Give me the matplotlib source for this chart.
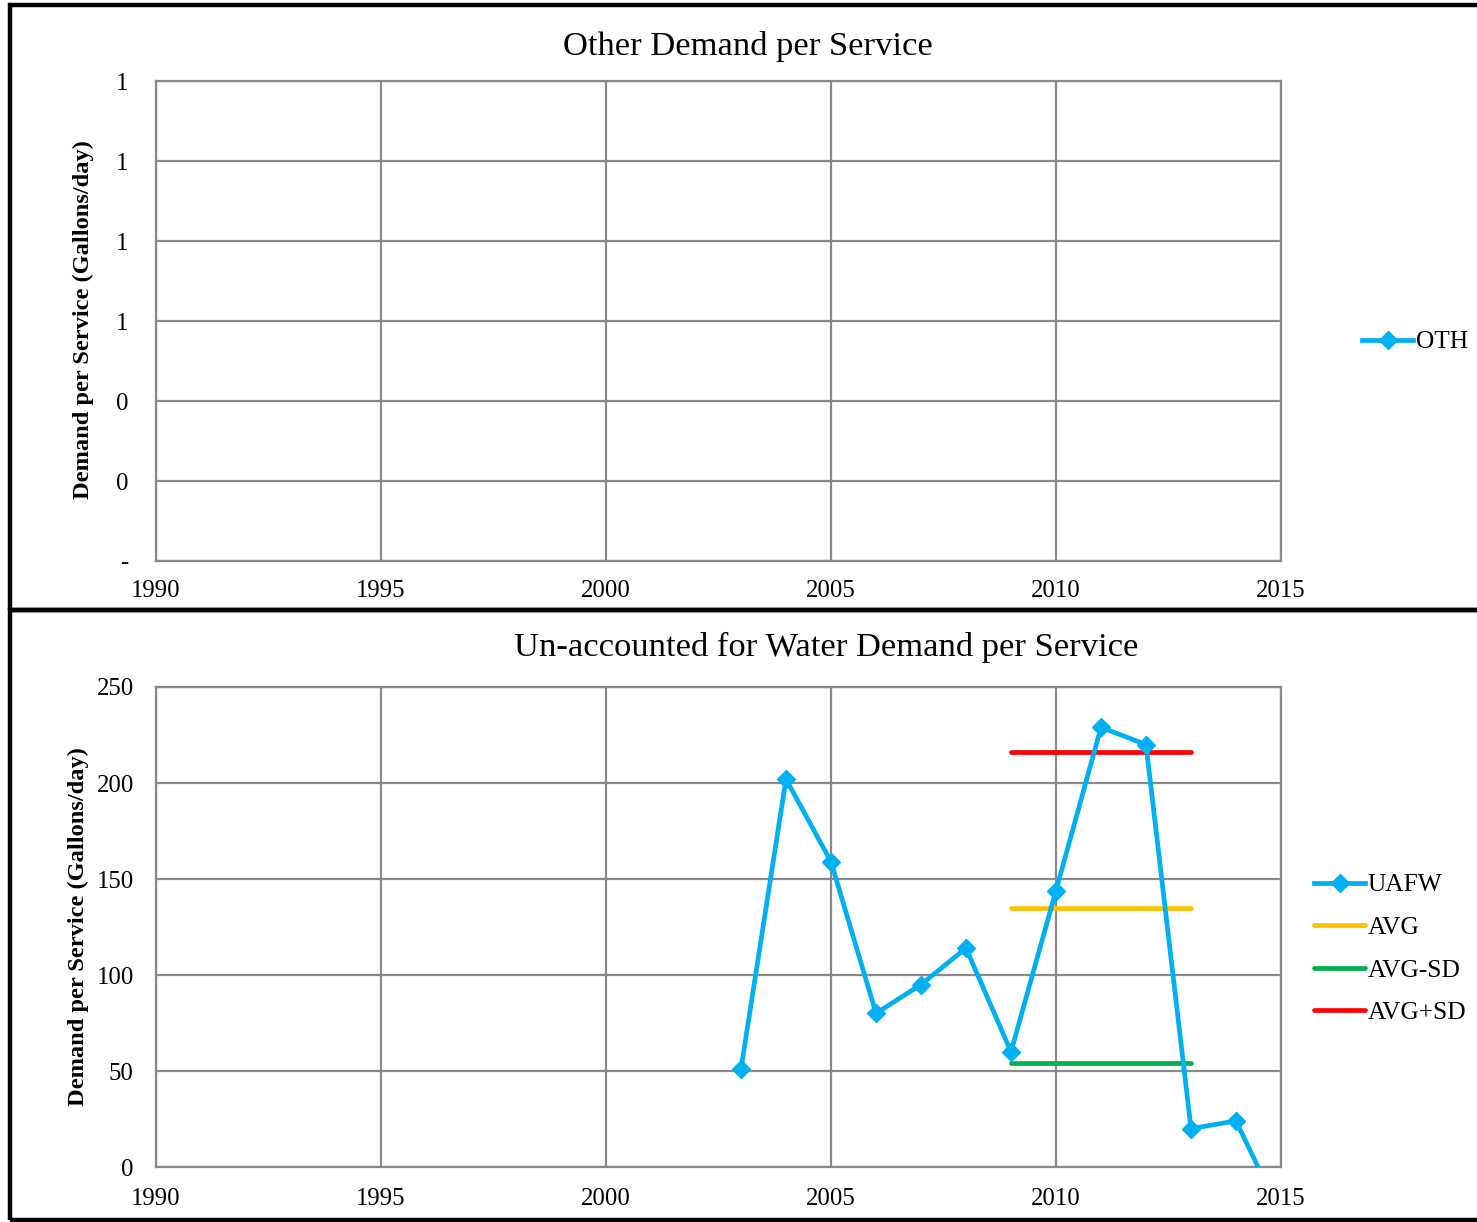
import matplotlib
matplotlib.use("Agg")
import matplotlib.pyplot as plt
from matplotlib.patches import Rectangle
from matplotlib.ticker import FuncFormatter, FixedLocator

# ---- data ----
years_x = [1990, 1995, 2000, 2005, 2010, 2015]
oth_years = []
oth_values = []
top_yticks = [0, 0.2, 0.4, 0.6, 0.8, 1.0, 1.2]

uafw_years = [2003, 2004, 2005, 2006, 2007, 2008, 2009, 2010, 2011, 2012, 2013, 2014, 2015]
uafw_values = [51, 202, 159, 80, 95, 114, 60, 144, 229, 220, 20, 24, -25]
stat_years = [2009, 2013]
avg_value = 135
avg_minus_sd = 54
avg_plus_sd = 216
bottom_yticks = [0, 50, 100, 150, 200, 250]

BLUE = "#00B0F0"
ORANGE = "#FFC000"
GREEN = "#00B050"
RED = "#FF0000"
GRID = "#898989"

plt.rcParams["font.family"] = ["Liberation Serif", "DejaVu Serif"]

W, H = 1477, 1222
fig = plt.figure(figsize=(W / 100, H / 100), dpi=100)

def fx(px):
    return px / W

def fy(py):
    return 1 - py / H

# panel borders
for (y0, y1) in [(5, 610), (610, 1220)]:
    fig.patches.append(Rectangle((fx(10), fy(y1)), fx(1500) - fx(10), fy(y0) - fy(y1),
                                 transform=fig.transFigure, fill=False,
                                 edgecolor="black", linewidth=3.2, zorder=0))

def style_axes(ax, ypad, xpad):
    for s in ax.spines.values():
        s.set_color(GRID)
        s.set_linewidth(1.6)
    ax.grid(True, color=GRID, linewidth=1.6)
    ax.set_axisbelow(True)
    ax.tick_params(length=0, labelsize=17.8, pad=ypad, axis="y")
    ax.tick_params(length=0, labelsize=17.8, pad=xpad, axis="x")
    ax.set_xlim(1990, 2015)
    ax.set_xticks(years_x)

LW = 3.4
MS = 9

# top axes
ax1 = fig.add_axes([fx(156), fy(561), fx(1281) - fx(156), fy(81) - fy(561)])
style_axes(ax1, 20, 13.5)
ax1.plot(oth_years, oth_values, color=BLUE, linewidth=LW, marker="D", markersize=MS, label="OTH")
ax1.set_ylim(0, 1.2)
ax1.yaxis.set_major_locator(FixedLocator(top_yticks))
ax1.yaxis.set_major_formatter(FuncFormatter(lambda v, p: "-" if abs(v) < 1e-9 else f"{round(v + 1e-9):.0f}"))
fig.text(fx(83), fy(320), "Demand per Service (Gallons/day)", rotation=90, ha="center", va="center",
         fontsize=17.6, fontweight="bold")
fig.text(fx(748), fy(47), "Other Demand per Service", ha="center", va="center", fontsize=24.8)
ax1.legend(loc="center left", bbox_to_anchor=(fx(1352), fy(342)), bbox_transform=fig.transFigure,
           frameon=False, fontsize=18.3, handlelength=2.0, handletextpad=0.1, borderaxespad=0)

# bottom axes
ax2 = fig.add_axes([fx(156), fy(1167), fx(1281) - fx(156), fy(687) - fy(1167)])
style_axes(ax2, 16, 15)
ax2.plot(uafw_years, uafw_values, color=BLUE, linewidth=LW, marker="D", markersize=MS, label="UAFW",
         zorder=3)
ax2.plot(stat_years, [avg_value] * 2, color=ORANGE, linewidth=LW, solid_capstyle="round", label="AVG")
ax2.plot(stat_years, [avg_minus_sd] * 2, color=GREEN, linewidth=LW, solid_capstyle="round", label="AVG-SD")
ax2.plot(stat_years, [avg_plus_sd] * 2, color=RED, linewidth=LW, solid_capstyle="round", label="AVG+SD")
ax2.set_ylim(0, 250)
ax2.set_yticks(bottom_yticks)
fig.text(fx(78), fy(927), "Demand per Service (Gallons/day)", rotation=90, ha="center", va="center",
         fontsize=17.6, fontweight="bold")
fig.text(fx(826), fy(647), "Un-accounted for Water Demand per Service", ha="center", va="center",
         fontsize=24.8)
ax2.legend(loc="center left", bbox_to_anchor=(fx(1304), fy(949)), bbox_transform=fig.transFigure,
           frameon=False, fontsize=18.3, handlelength=2.0, handletextpad=0.1, borderaxespad=0,
           labelspacing=0.78)

fig.savefig("out.png", dpi=100)
